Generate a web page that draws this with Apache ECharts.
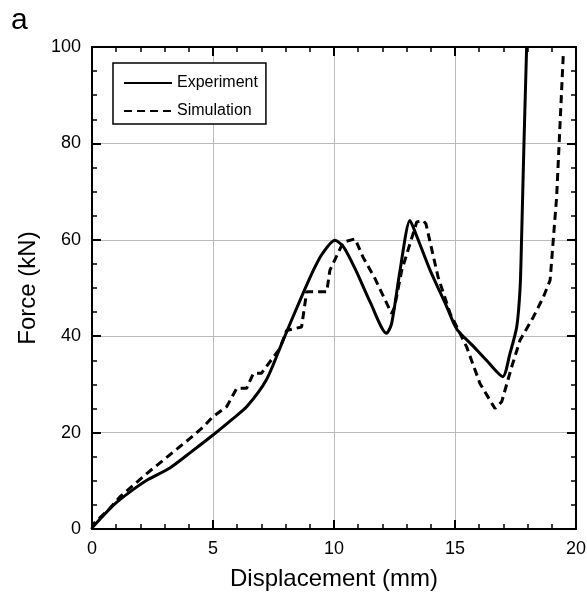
<!DOCTYPE html>
<html><head><meta charset="utf-8">
<script src="https://cdn.jsdelivr.net/npm/echarts@6/dist/echarts.min.js"></script>
<style>html,body{margin:0;padding:0;background:#fff}#c{width:587px;height:593px}</style>
</head><body><div id="c"></div>
<script>
const seriesNames = ['Experiment', 'Simulation'];
const expDisp  = [0, 0.05, 0.9, 1.6, 2.3, 3.2, 4.1, 5.0, 5.8, 6.4, 7.2, 7.9, 8.6, 9.15, 9.5, 10.04, 10.4, 10.9, 11.5, 12.17, 12.38, 12.73, 13.14, 13.4, 13.97, 14.66, 15.07, 15.7, 16.3, 16.97, 17.27, 17.55, 17.69, 17.75, 17.85, 17.96];
const expForce = [0, 0.5, 5, 7.8, 10.2, 12.6, 16, 19.5, 22.8, 25.4, 30.9, 39.2, 47.5, 53.7, 57, 59.9, 58.5, 53.7, 47, 40.6, 42.6, 53.7, 64.0, 61, 53.7, 46.1, 41.5, 38.2, 35.0, 31.6, 36.4, 41.9, 50, 60, 80, 100];
const simDisp  = [0, 0.05, 0.74, 1.16, 2.26, 2.95, 4.05, 4.6, 5.0, 5.57, 5.98, 6.39, 6.67, 7.0, 7.77, 8.04, 8.66, 8.87, 9.7, 9.83, 10.38, 10.87, 11.2, 11.7, 12.38, 12.5, 12.8, 13.42, 13.69, 13.8, 14.3, 14.8, 15.48, 16.03, 16.65, 16.93, 17.34, 17.69, 18.24, 18.65, 18.93, 19.2, 19.48];
const simForce = [0, 1, 4.3, 6.7, 11.5, 14.3, 18.8, 21.2, 23.3, 25.4, 29.2, 29.2, 32.3, 32.3, 37.5, 41.2, 41.9, 49.2, 49.2, 53.7, 59.5, 60.2, 56.4, 51.9, 44.7, 46, 53.7, 63.7, 64, 63.3, 52.3, 44.7, 37.8, 30.2, 25.0, 26.4, 33.6, 39.2, 44.0, 48.1, 51.6, 68.9, 99];
const xTicks = [0, 5, 10, 15, 20];
const yTicks = [0, 20, 40, 60, 80, 100];

const pairs = (xs, ys) => xs.map((x, i) => [x, ys[i]]);
const font = 'Liberation Sans, Arial, sans-serif';
const chart = echarts.init(document.getElementById('c'), null, {renderer: 'canvas'});

const baseAxis = (isX, pos, show) => ({
  type: 'value',
  position: pos,
  min: isX ? xTicks[0] : yTicks[0],
  max: isX ? xTicks[xTicks.length - 1] : yTicks[yTicks.length - 1],
  interval: isX ? 5 : 20,
  axisLine: {show: true, onZero: false, lineStyle: {color: '#000', width: 2}},
  axisTick: {show: true, inside: true, length: 9, lineStyle: {color: '#000', width: 2}},
  minorTick: {show: true, splitNumber: isX ? 5 : 4, length: 5, lineStyle: {color: '#000', width: 1.5}},
  splitLine: {show: show, lineStyle: {color: '#bbb', width: 1}},
  axisLabel: {show: show, color: '#000', fontFamily: font, fontSize: 18, margin: 11},
});

const xMain = Object.assign(baseAxis(true, 'bottom', true), {
  name: 'Displacement (mm)', nameLocation: 'middle', nameGap: 38,
  nameTextStyle: {color: '#000', fontFamily: font, fontSize: 24}
});
const yMain = Object.assign(baseAxis(false, 'left', true), {
  name: 'Force (kN)', nameLocation: 'middle', nameGap: 52,
  nameTextStyle: {color: '#000', fontFamily: font, fontSize: 24}
});

chart.setOption({
  animation: false,
  backgroundColor: '#fff',
  grid: {left: 92, right: 11, top: 47, bottom: 64, containLabel: false, outerBoundsMode: 'none'},
  title: {text: 'a', left: 6, top: 1, textStyle: {fontFamily: font, fontSize: 30, fontWeight: 'normal', color: '#000'}},
  legend: {
    data: seriesNames, orient: 'vertical', left: 113, top: 63,
    padding: [12, 8, 5, 10], itemGap: 12, itemWidth: 48, itemHeight: 14,
    borderColor: '#000', borderWidth: 1.5, backgroundColor: '#fff',
    itemStyle: {opacity: 0},
    textStyle: {fontFamily: font, fontSize: 16, color: '#000'}
  },
  xAxis: [xMain, baseAxis(true, 'top', false)],
  yAxis: [yMain, baseAxis(false, 'right', false)],
  series: [
    {name: seriesNames[0], type: 'line', xAxisIndex: 0, yAxisIndex: 0, data: pairs(expDisp, expForce),
     showSymbol: false, symbol: 'none', smooth: 0.25, lineStyle: {color: '#000', width: 3}, itemStyle: {color: '#000'}},
    {name: seriesNames[1], type: 'line', xAxisIndex: 0, yAxisIndex: 0, data: pairs(simDisp, simForce),
     showSymbol: false, symbol: 'none', smooth: false, lineStyle: {color: '#000', width: 3, type: [8, 5]}, itemStyle: {color: '#000'}}
  ]
});
</script></body></html>
